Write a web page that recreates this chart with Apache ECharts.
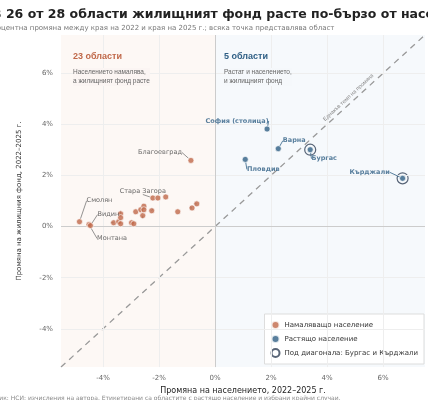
<!DOCTYPE html>
<html><head><meta charset="utf-8">
<script src="https://cdn.jsdelivr.net/npm/echarts@6/dist/echarts.min.js"></script>
<style>html,body{margin:0;padding:0;background:#fff}#c{width:428px;height:400px}</style>
</head><body><div id="c"></div>
<script>
const declining = [
  [-4.84,0.19,'Смолян'],[-4.5,0.08,'Монтана'],[-4.45,0.04,'Видин'],
  [-3.62,0.15,''],[-3.44,0.19,''],[-3.37,0.5,''],[-3.37,0.35,''],[-3.37,0.11,''],
  [-2.98,0.15,''],[-2.9,0.11,''],[-2.83,0.58,''],[-2.65,0.66,''],[-2.54,0.8,''],
  [-2.58,0.43,''],[-2.54,0.66,''],[-2.26,0.62,''],[-2.22,1.12,'Стара Загора'],
  [-2.04,1.12,''],[-1.76,1.16,''],[-1.33,0.58,''],[-0.86,2.59,'Благоевград'],
  [-0.82,0.73,''],[-0.65,0.89,'']
];
const growing = [
  [1.86,3.82,'София (столица)'],[2.26,3.05,'Варна'],[1.08,2.63,'Пловдив'],
  [3.4,3.01,'Бургас'],[6.7,1.89,'Кърджали']
];
const belowDiagonal = [[3.4,3.01],[6.7,1.89]];
const tickValues = [-4,-2,0,2,4,6];
const labelOffsets = {
  'Смолян':[20,-21,'center',false],'Монтана':[23,14,'center',true],'Видин':[18,-11,'center',true],
  'Стара Загора':[-10,-7,'center',false],'Благоевград':[-9,-8,'right',true],
  'София (столица)':[-30,-8,'center',true],'Варна':[16,-8,'center',true],
  'Пловдив':[18,10,'center',true],'Бургас':[14,9,'center',true],'Кърджали':[-33,-6,'center',true]
};
const ORANGE='#c0694a', BLUE='#2f5f85';
const fmt = v => v + '%';
function layoutFn(data){
  return function(p){
    const name = data[p.dataIndex][2];
    const o = labelOffsets[name]; if(!o) return {};
    const cx = p.rect.x+p.rect.width/2, cy = p.rect.y+p.rect.height/2;
    return {x:cx+o[0], y:cy+o[1], align:o[2], verticalAlign:'middle'};
  };
}
const grid = [];
tickValues.forEach(v=>{grid.push({xAxis:v});grid.push({yAxis:v});});
const chart = echarts.init(document.getElementById('c'));
chart.setOption({
  animation:false,
  textStyle:{fontFamily:'DejaVu Sans'},
  title:[
    {text:'В 26 от 28 области жилищният фонд расте по-бързо от населението',left:-13,top:3,textStyle:{fontSize:12.5,fontWeight:'bold',color:'#222'}},
    {text:'Процентна промяна между края на 2022 и края на 2025 г.; всяка точка представлява област',left:-18,top:20,textStyle:{fontSize:7,fontWeight:'normal',color:'#777'}},
    {text:'Източник: НСИ; изчисления на автора. Етикетирани са областите с растящо население и избрани крайни случаи.',left:-28,top:390,textStyle:{fontSize:6,fontWeight:'normal',color:'#888'}}
  ],
  grid:{left:61,right:3,top:35,bottom:30},
  xAxis:{type:'value',min:-5.5,max:7.5,name:'Промяна на населението, 2022–2025 г.',nameLocation:'middle',nameGap:18,
    nameTextStyle:{fontSize:8,color:'#222'},
    axisLine:{show:false},splitLine:{show:false},
    axisTick:{show:true,customValues:tickValues,lineStyle:{color:'#bbb'}},
    axisLabel:{customValues:tickValues,formatter:fmt,fontSize:7,color:'#666'}},
  yAxis:{type:'value',min:-5.5,max:7.5,name:'Промяна на жилищния фонд, 2022–2025 г.',nameLocation:'middle',nameGap:38,
    nameTextStyle:{fontSize:7,color:'#333'},
    axisLine:{show:false},splitLine:{show:false},
    axisTick:{show:true,customValues:tickValues,lineStyle:{color:'#bbb'}},
    axisLabel:{customValues:tickValues,formatter:fmt,fontSize:7,color:'#666'}},
  legend:{right:4,bottom:36,orient:'vertical',itemWidth:8,itemHeight:8,itemGap:4,
    backgroundColor:'#fff',borderColor:'#ddd',borderWidth:1,padding:[6,6],
    textStyle:{fontSize:7,color:'#333'},
    data:[{name:'Намаляващо население',icon:'circle'},{name:'Растящо население',icon:'circle'},{name:'Под диагонала: Бургас и Кърджали',icon:'circle'}]},
  series:[
    {type:'line',data:[[-5.5,-5.5],[7.5,7.5]],symbol:'none',silent:true,
      lineStyle:{color:'#999',type:[6,5],width:1.3},z:1,
      markArea:{silent:true,data:[
        [{coord:[-5.5,-5.5],itemStyle:{color:'rgba(245,222,210,0.22)'}},{coord:[0,7.5]}],
        [{coord:[0,-5.5],itemStyle:{color:'rgba(215,228,242,0.22)'}},{coord:[7.5,7.5]}]
      ]},
      markLine:{silent:true,symbol:'none',label:{show:false},lineStyle:{color:'#eee',type:'solid',width:1},data:grid.concat([
        {xAxis:0,lineStyle:{color:'#ccc',width:1}},{yAxis:0,lineStyle:{color:'#ccc',width:1}}])}
    },
    {name:'Намаляващо население',type:'scatter',data:declining,symbolSize:6,z:5,
      itemStyle:{color:ORANGE,borderColor:'#fff',borderWidth:0.8},
      label:{show:true,formatter:p=>p.data[2],fontSize:6.5,color:'#444'},
      labelLine:{show:true,lineStyle:{color:'#666',width:0.7}},
      labelLayout:layoutFn(declining)},
    {name:'Растящо население',type:'scatter',data:growing,symbolSize:6,z:5,
      itemStyle:{color:BLUE,borderColor:'#fff',borderWidth:0.8},
      label:{show:true,formatter:p=>p.data[2],fontSize:6.5,fontWeight:'bold',color:'#2f5f85'},
      labelLine:{show:true,lineStyle:{color:'#2f5f85',width:0.8}},
      labelLayout:layoutFn(growing)},
    {name:'Под диагонала: Бургас и Кърджали',type:'scatter',data:belowDiagonal,symbolSize:11,z:4,
      itemStyle:{color:'rgba(255,255,255,0)',borderColor:'#2f3f55',borderWidth:1.2}}
  ],
  graphic:[
    {type:'text',z:100,left:73,top:52,style:{text:'23 области',fontSize:9,fontWeight:'bold',fill:'#c0694a'}},
    {type:'text',z:100,left:73,top:68,style:{text:'Населението намалява,\nа жилищният фонд расте',fontSize:6.5,fill:'#666',lineHeight:9,backgroundColor:'rgba(252,246,243,0.95)'}},
    {type:'text',z:100,left:224,top:52,style:{text:'5 области',fontSize:9,fontWeight:'bold',fill:'#2f5f85'}},
    {type:'text',z:100,left:224,top:68,style:{text:'Растат и населението,\nи жилищният фонд',fontSize:6.5,fill:'#666',lineHeight:9,backgroundColor:'rgba(246,249,252,0.95)'}},
    {type:'text',z:100,x:322,y:118,rotation:0.75,style:{text:'Еднакъв темп на промяна',fontSize:5.5,fill:'#888'}}
  ]
});
</script></body></html>
